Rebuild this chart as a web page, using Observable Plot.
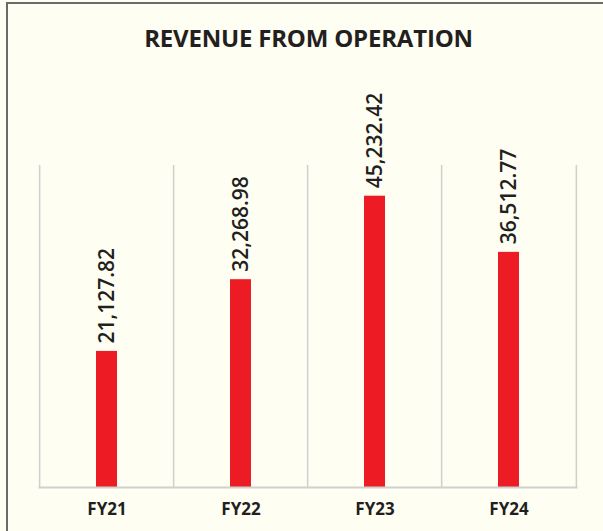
<!DOCTYPE html>
<html>
<head>
<meta charset="utf-8">
<script src="https://cdn.jsdelivr.net/npm/d3@7"></script>
<script src="https://cdn.jsdelivr.net/npm/@observablehq/plot@0.6"></script>
<style>
  html, body { margin: 0; padding: 0; background: #fefef3; overflow: hidden; }
  body { width: 603px; height: 531px; position: relative; }
  #frame { position: absolute; left: 6px; top: 2px; right: -10px; bottom: -10px;
           border-top: 2px solid #6a6a66; border-left: 2px solid #6a6a66; pointer-events: none; }
  #title { height: 65px; box-sizing: border-box; padding-top: 25px; padding-left: 14px;
           text-align: center; font-family: "Open Sans", sans-serif; font-weight: 700;
           font-size: 24px; line-height: 26px; color: #231f20; letter-spacing: -0.2px; }
  svg { display: block; }
</style>
</head>
<body>
<div id="frame"></div>
<div id="title">REVENUE FROM OPERATION</div>
<div id="chart"></div>
<script>
const categories = ["FY21", "FY22", "FY23", "FY24"];
const revenue = [21127.82, 32268.98, 45232.42, 36512.77];
const valueLabels = ["21,127.82", "32,268.98", "45,232.42", "36,512.77"];

const data = categories.map((c, i) => ({ year: c, value: revenue[i], label: valueLabels[i] }));
const step = (603 - 38.5 - 25.5) / categories.length;

const chart = Plot.plot({
  width: 603,
  height: 466,
  marginTop: 100,
  marginBottom: 44,
  marginLeft: 38.5,
  marginRight: 25.5,
  style: { background: "transparent", fontFamily: "Open Sans, sans-serif", color: "#231f20" },
  x: { domain: categories, paddingInner: 0.84, paddingOuter: 0.42, label: null },
  y: { domain: [0, 50000], axis: null },
  marks: [
    Plot.ruleX(categories, { x: d => d, dx: -step / 2, stroke: "#d0d0cc", strokeWidth: 1.5 }),
    Plot.ruleX(categories.slice(-1), { x: d => d, dx: step / 2, stroke: "#d0d0cc", strokeWidth: 1.5 }),
    Plot.barY(data, { x: "year", y: "value", fill: "#ed1c24" }),
    Plot.ruleY([0], { stroke: "#d0d0cc", strokeWidth: 2 }),
    Plot.text(data, { x: "year", y: "value", text: "label", rotate: -90, textAnchor: "start",
      dy: -8, fontSize: 21, fill: "#231f20", fontWeight: 600 }),
    Plot.axisX({ tickSize: 0, tickPadding: 15, fontSize: 17, fontWeight: 700, fill: "#231f20", label: null })
  ]
});
document.getElementById("chart").appendChild(chart);
</script>
</body>
</html>
